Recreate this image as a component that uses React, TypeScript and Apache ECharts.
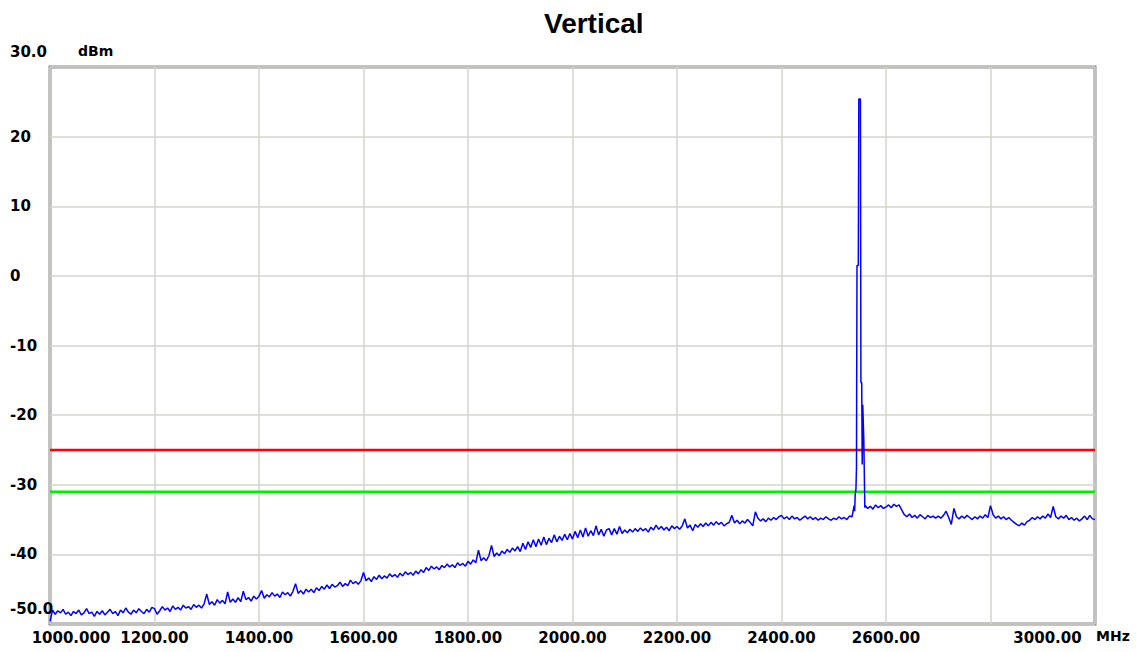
import React, { useEffect, useRef } from "react";
import * as echarts from "echarts";

// Spectrum sweep: readings every 5 MHz from 1000 MHz (null = replaced by peak detail)
const sweepStartMHz = 1000;
const sweepStepMHz = 5;
const sweepLevels: (number | null)[] = [
  // 1000-1095
  -49.6, -48.0, -48.6, -48.1, -48.4, -47.9, -48.6, -48.3, -48.8, -48.2, -48.5, -48.0, -48.7, -48.4, -47.8, -48.5, -48.3, -48.9, -48.2, -48.6,
  // 1100-1195
  -48.1, -48.7, -48.3, -47.9, -48.5, -48.2, -48.8, -48.0, -48.4, -47.7, -48.3, -48.6, -48.0, -48.4, -47.8, -48.2, -48.5, -47.9, -48.3, -47.6,
  // 1200-1295
  -47.8, -48.6, -48.1, -47.5, -48.0, -47.7, -48.2, -47.4, -47.9, -47.6, -48.0, -47.3, -47.7, -47.5, -47.9, -47.2, -47.6, -47.3, -47.7, -47.1,
  // 1300-1395
  -45.7, -47.2, -46.8, -47.3, -46.5, -47.0, -46.6, -47.1, -45.4, -46.9, -46.4, -46.9, -46.2, -46.8, -45.3, -46.5, -46.2, -46.7, -46.0, -46.4,
  // 1400-1495
  -46.0, -45.2, -46.3, -45.8, -46.1, -45.5, -46.0, -45.7, -46.2, -45.4, -45.8, -45.5, -46.0, -45.3, -44.2, -45.6, -45.2, -45.7, -45.0, -45.4,
  // 1500-1595
  -45.0, -45.5, -44.8, -45.2, -44.6, -45.0, -44.4, -44.9, -44.3, -44.7, -44.5, -44.0, -44.6, -44.2, -44.5, -43.7, -44.2, -43.9, -44.3, -43.8,
  // 1600-1695
  -42.6, -43.8, -43.4, -43.9, -43.2, -43.6, -43.0, -43.5, -43.1, -43.4, -42.8, -43.2, -42.9, -43.3, -42.7, -43.1, -42.5, -42.9, -42.6, -43.0,
  // 1700-1795
  -42.4, -42.8, -42.2, -42.6, -41.9, -42.3, -41.7, -42.1, -41.8, -42.2, -41.6, -41.9, -41.4, -41.8, -41.5, -41.9, -41.2, -41.6, -41.3, -41.7,
  // 1800-1895
  -41.0, -41.4, -40.8, -41.2, -39.4, -40.9, -40.5, -40.9, -40.2, -38.7, -40.3, -39.8, -40.2, -39.5, -39.9, -39.3, -39.7, -39.1, -39.5, -38.9,
  // 1900-1995
  -39.6, -38.4, -39.3, -38.2, -39.0, -37.9, -38.9, -37.8, -38.7, -37.5, -38.6, -37.7, -38.3, -37.2, -38.2, -37.4, -38.0, -37.1, -37.9, -37.0,
  // 2000-2095
  -37.8, -36.7, -37.6, -36.5, -37.5, -36.2, -37.4, -36.6, -37.3, -35.9, -37.2, -36.4, -37.4, -36.5, -36.3, -37.2, -36.3, -37.1, -36.0, -37.0,
  // 2100-2195
  -36.5, -36.9, -36.4, -36.8, -36.3, -36.7, -36.2, -36.6, -36.3, -36.8, -36.1, -36.5, -35.8, -36.4, -36.0, -36.5, -36.1, -36.6, -35.9, -36.3,
  // 2200-2295
  -36.0, -36.4, -35.9, -34.9, -36.2, -35.8, -36.6, -35.7, -36.1, -35.6, -36.0, -35.5, -35.9, -35.4, -35.8, -35.3, -35.7, -35.4, -35.9, -35.6,
  // 2300-2395
  -35.4, -34.4, -35.5, -35.1, -35.6, -35.2, -35.5, -35.0, -35.4, -35.9, -33.9, -34.8, -35.2, -34.9, -35.3, -34.8, -35.1, -34.7, -35.0, -34.6,
  // 2400-2495
  -34.4, -34.9, -34.6, -35.0, -34.5, -34.9, -34.7, -35.1, -34.8, -34.5, -34.9, -34.6, -35.0, -34.7, -35.1, -34.8, -35.0, -34.6, -34.9, -35.1,
  // 2500-2595
  -34.8, -35.0, -34.6, -34.9, -34.7, -35.0, -34.5, -34.6, -33.8, null, null, null, -33.0, -33.4, -33.1, -33.5, -32.9, -33.3, -33.0, -33.4,
  // 2600-2695
  -33.2, -32.9, -33.3, -32.8, -33.1, -32.9, -33.6, -34.3, -34.6, -34.2, -34.7, -34.4, -34.8, -34.3, -34.6, -34.9, -34.4, -34.7, -34.5, -34.8,
  // 2700-2795
  -34.5, -34.8, -34.4, -33.8, -34.7, -35.7, -33.4, -34.6, -34.9, -34.5, -34.8, -34.4, -34.7, -35.0, -34.6, -34.9, -34.5, -34.8, -34.3, -34.7,
  // 2800-2895
  -33.0, -34.3, -34.8, -34.5, -34.9, -34.6, -35.0, -34.7, -35.1, -35.4, -35.7, -35.9, -35.5, -35.8, -35.3, -35.1, -34.7, -35.0, -34.6, -34.9,
  // 2900-2995
  -34.5, -34.8, -34.2, -34.7, -33.1, -34.6, -34.9, -34.5, -34.8, -34.4, -35.0, -34.7, -35.1, -34.8, -35.2, -34.9, -34.5, -35.0, -34.4, -34.9,
  // 3000
  -35.0,
];

// Carrier detail around 2550 MHz
const peakFreqs = [2539, 2541, 2542.5, 2543.5, 2544.5, 2547, 2548, 2551, 2552, 2553.5, 2554.5, 2555.5, 2556.5, 2557.5, 2558.5, 2559.5];
const peakLevels = [-33.0, -31.5, -30.6, -27.6, 1.5, 1.5, 25.4, 25.4, -15.3, -15.3, -27.1, -18.5, -18.5, -23.5, -23.5, -33.3];

const redLimit = -25;
const greenLimit = -31;
const freqMin = 1000;
const freqMax = 3000;
const levelMin = -50;
const levelMax = 30;
const hiddenFreqLabels = [2800];

const labelFont = "'DejaVu Sans', sans-serif";

export default function App() {
  const ref = useRef<HTMLDivElement>(null);
  useEffect(() => {
    if (!ref.current) return;
    const chart = echarts.init(ref.current, undefined, { renderer: "svg" });

    const sweep: [number, number][] = [];
    sweepLevels.forEach((v, i) => {
      if (v !== null) sweep.push([sweepStartMHz + i * sweepStepMHz, v]);
    });
    const peak: [number, number][] = peakFreqs.map((f, i) => [f, peakLevels[i]]);
    const trace = sweep.concat(peak).sort((a, b) => a[0] - b[0]);

    chart.setOption({
      animation: false,
      backgroundColor: "#ffffff",
      title: {
        text: "Vertical",
        left: 539,
        top: 4,
        textStyle: {
          fontFamily: "'Liberation Sans', Arial, sans-serif",
          fontWeight: "bold",
          fontSize: 28,
          color: "#000",
        },
      },
      grid: {
        left: 50,
        top: 67,
        right: 42,
        bottom: 28,
        show: true,
        borderColor: "#8a8a8a",
        borderWidth: 3,
        backgroundColor: "transparent",
      },
      xAxis: {
        type: "value",
        min: freqMin,
        max: freqMax,
        interval: 200,
        axisLine: { show: false },
        axisTick: { show: false },
        splitLine: { show: true, lineStyle: { color: "#d6d3cc", width: 1.5 } },
        axisLabel: {
          margin: 6,
          color: "#000",
          fontFamily: labelFont,
          fontWeight: "bold",
          fontSize: 15,
          formatter: (v: number) => {
            if (hiddenFreqLabels.includes(v)) return "";
            if (v === freqMin) return "{first|" + v.toFixed(3) + "}";
            if (v === freqMax) return "{last|" + v.toFixed(2) + "}";
            return v.toFixed(2);
          },
          rich: {
            first: {
              fontFamily: labelFont,
              fontWeight: "bold",
              fontSize: 15,
              color: "#000",
              padding: [0, 0, 0, 42],
            },
            last: {
              fontFamily: labelFont,
              fontWeight: "bold",
              fontSize: 15,
              color: "#000",
              padding: [0, 95, 0, 0],
            },
          },
        },
      },
      yAxis: {
        type: "value",
        min: levelMin,
        max: levelMax,
        interval: 10,
        axisLine: { show: false },
        axisTick: { show: false },
        splitLine: { show: true, lineStyle: { color: "#d6d3cc", width: 1.5 } },
        axisLabel: {
          align: "left",
          margin: 40,
          color: "#000",
          fontFamily: labelFont,
          fontWeight: "bold",
          fontSize: 15,
          formatter: (v: number) => {
            if (v === levelMax || v === levelMin) return "{edge|" + v.toFixed(1) + "}";
            return String(v);
          },
          rich: {
            edge: {
              fontFamily: labelFont,
              fontWeight: "bold",
              fontSize: 15,
              color: "#000",
              padding: [0, 0, 30, 0],
            },
          },
        },
      },
      graphic: [
        {
          type: "text",
          left: 78,
          top: 44,
          style: {
            text: "dBm",
            fill: "#000",
            font: "bold 14px 'DejaVu Sans', sans-serif",
          },
        },
        {
          type: "text",
          left: 1096,
          top: 629,
          style: {
            text: "MHz",
            fill: "#000",
            font: "bold 14px 'DejaVu Sans', sans-serif",
          },
        },
      ],
      series: [
        {
          name: "red",
          type: "line",
          data: [
            [freqMin, redLimit],
            [freqMax, redLimit],
          ],
          symbol: "none",
          lineStyle: { color: "#ff0000", width: 2.5 },
          z: 3,
        },
        {
          name: "green",
          type: "line",
          data: [
            [freqMin, greenLimit],
            [freqMax, greenLimit],
          ],
          symbol: "none",
          lineStyle: { color: "#00ee00", width: 2.5 },
          z: 3,
        },
        {
          name: "trace",
          type: "line",
          data: trace,
          symbol: "none",
          lineStyle: { color: "#0000ff", width: 1.5 },
          z: 4,
        },
      ],
    });
    return () => chart.dispose();
  }, []);

  return (
    <div
      ref={ref}
      style={{ position: "fixed", left: 0, top: 0, width: 1137, height: 652 }}
    />
  );
}
